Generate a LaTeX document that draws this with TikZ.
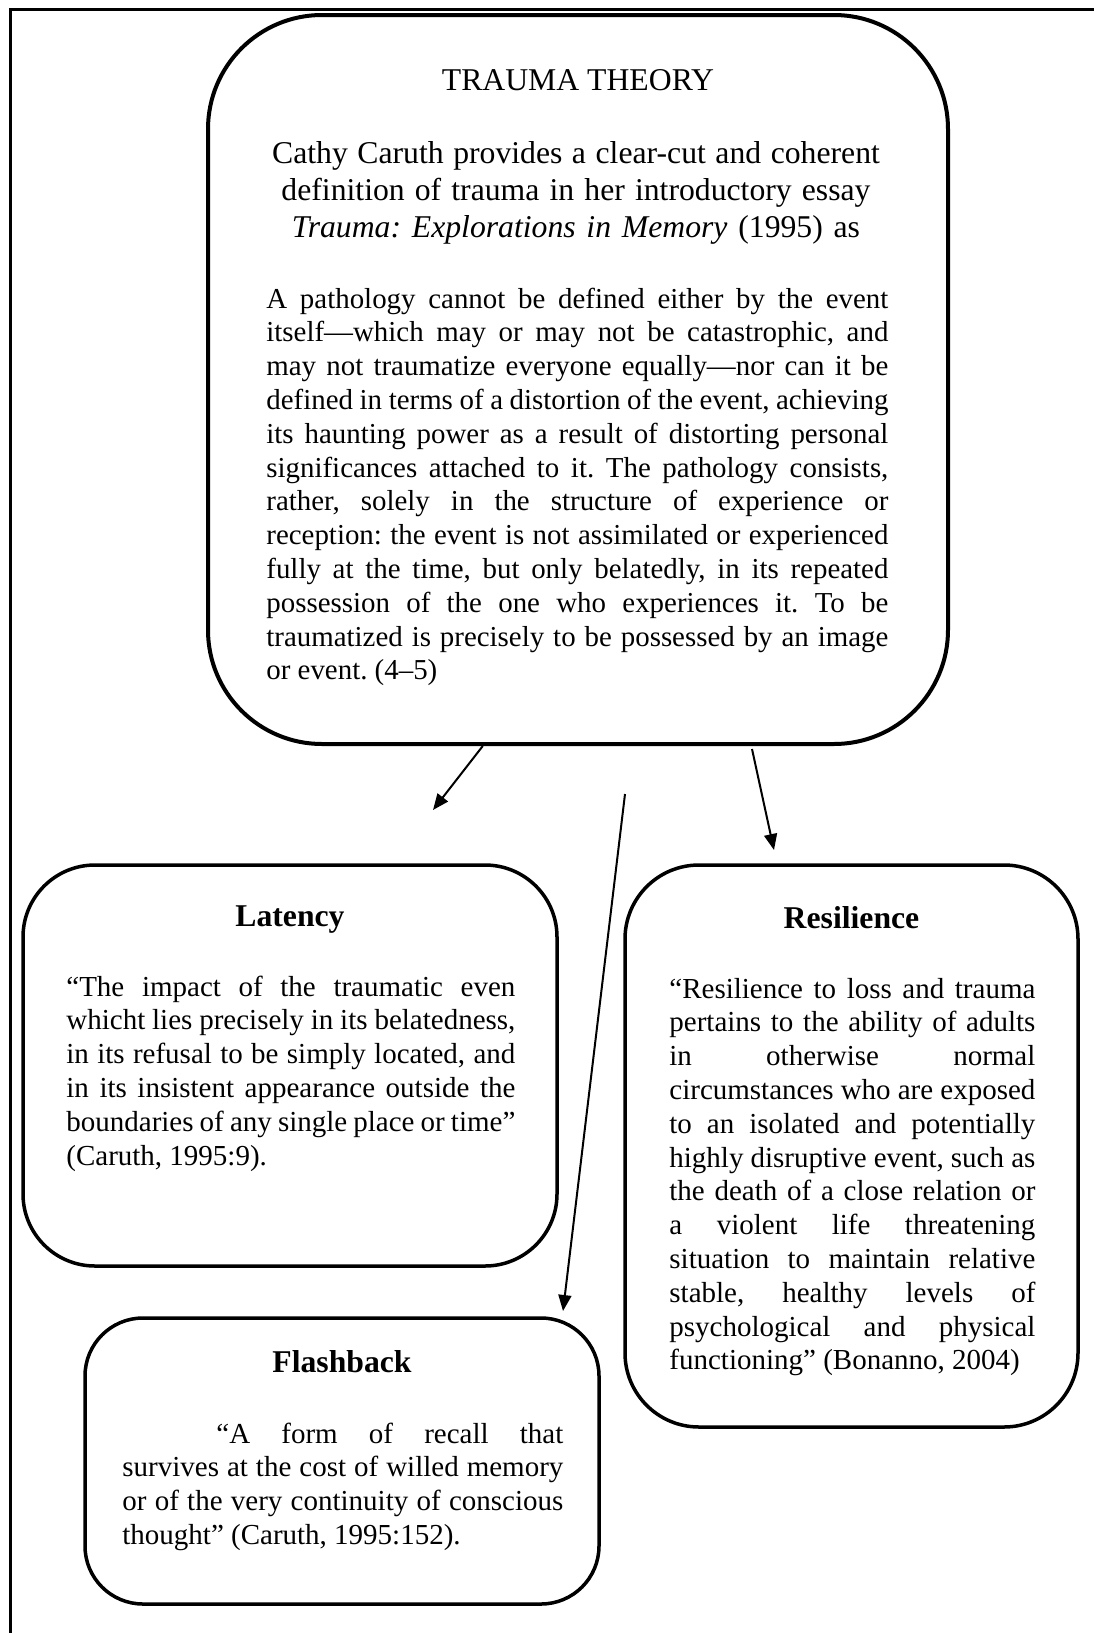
\documentclass[tikz,border=0pt]{standalone}
\usepackage{fontspec}
\setmainfont{Liberation Serif}
\usetikzlibrary{arrows.meta,calc}
\frenchspacing
\newcommand\jlw{100pt}
\newcommand\nsp{\spaceskip=0pt\xspaceskip=0pt\relax}
\newcommand\jl[1]{\leavevmode\hbox to \jlw{\nsp #1}\\}
\begin{document}
\begin{tikzpicture}[x=0.5pt,y=-0.5pt,
  bigfont/.style={font=\fontsize{15.85}{18.5}\selectfont},
  headfont/.style={font=\fontsize{15.85}{18.5}\selectfont\bfseries},
  quotefont/.style={font=\fontsize{14.45}{16.9}\selectfont},
  smallfont/.style={font=\fontsize{14.5}{16.9}\selectfont},
  box/.style={draw, line width=1.75pt, rectangle, inner sep=0pt},
  arr/.style={-{Triangle[length=8pt,width=6.5pt]}, line width=1pt},
  body/.style={smallfont, inner sep=0pt, align=left, anchor=base west},
  head/.style={headfont, inner sep=0pt, anchor=base},
]
\useasboundingbox (0,0) rectangle (1094,1633);
% outer frame (only left and top edges visible)
\draw[line width=1.5pt] (10,1633) -- (10,9) -- (1094,9);

% boxes
\node[box, line width=2pt, rounded corners=57pt, minimum width=370pt, minimum height=364.5pt] (main) at (578,379.5) {};
\node[box, rounded corners=36pt, minimum width=267pt, minimum height=200.5pt] (lat) at (290,1065.5) {};
\node[box, rounded corners=37pt, minimum width=226.5pt, minimum height=281pt] (res) at (851.5,1146) {};
\node[box, rounded corners=29pt, minimum width=257pt, minimum height=143pt] (fla) at (342,1461) {};

% main box text
\node[bigfont, inner sep=0pt, anchor=base] (title) at (578,90) {TRAUMA THEORY};
\node[bigfont, inner sep=0pt, anchor=base, align=center, text width=330pt] (intro) at (576,163) {\nsp Cathy Caruth provides a clear-cut and coherent\\ definition of trauma in her introductory essay\\ \textit{Trauma: Explorations in Memory} (1995) as};
\node[body, quotefont, text width=311pt] (quote) at (266,308) {\renewcommand\jlw{311pt}\nsp
\jl{A pathology cannot be defined either by the event}
\jl{itself—which may or may not be catastrophic, and}
\jl{may not traumatize everyone equally—nor can it be}
\jl{defined in terms of a distortion of the event, achieving}
\jl{its haunting power as a result of distorting personal}
\jl{significances attached to it. The pathology consists,}
\jl{rather, solely in the structure of experience or}
\jl{reception: the event is not assimilated or experienced}
\jl{fully at the time, but only belatedly, in its repeated}
\jl{possession of the one who experiences it. To be}
\jl{traumatized is precisely to be possessed by an image}
or event. (4–5)};

% latency
\node[head] (lathead) at (290,926) {Latency};
\node[body, text width=224.5pt] (lattext) at (66,996) {\renewcommand\jlw{224.5pt}\nsp
\jl{“The impact of the traumatic even}
\jl{whicht lies precisely in its belatedness,}
\jl{in its refusal to be simply located, and}
\jl{in its insistent appearance outside the}
\jl{boundaries of any single place or time”}
(Caruth, 1995:9).};

% resilience
\node[head] (reshead) at (851.5,928) {Resilience};
\node[body, text width=183pt] (restext) at (669,998) {\renewcommand\jlw{183pt}\nsp
\jl{“Resilience to loss and trauma}
\jl{pertains to the ability of adults}
\jl{in otherwise normal}
\jl{circumstances who are exposed}
\jl{to an isolated and potentially}
\jl{highly disruptive event, such as}
\jl{the death of a close relation or}
\jl{a violent life threatening}
\jl{situation to maintain relative}
\jl{stable, healthy levels of}
\jl{psychological and physical}
functioning” (Bonanno, 2004)};

% flashback
\node[head] (flahead) at (342,1372) {Flashback};
\node[body, text width=220.5pt] (flatext) at (122,1443) {\renewcommand\jlw{220.5pt}\nsp
\jl{\hspace*{47pt}“A form of recall that}
\jl{survives at the cost of willed memory}
\jl{or of the very continuity of conscious}
thought” (Caruth, 1995:152).};

% connectors
\coordinate (a1e) at (433,810);
\coordinate (a2s) at (625,794);
\coordinate (a2e) at (563,1311);
\coordinate (a3s) at (752,749);
\coordinate (a3e) at (774,850);
\draw[arr] ($(main.south west)!0.372!(main.south east)$) -- (a1e);
\draw[arr] (a2s) -- (a2e);
\draw[arr] (a3s) -- (a3e);
\end{tikzpicture}
\end{document}
